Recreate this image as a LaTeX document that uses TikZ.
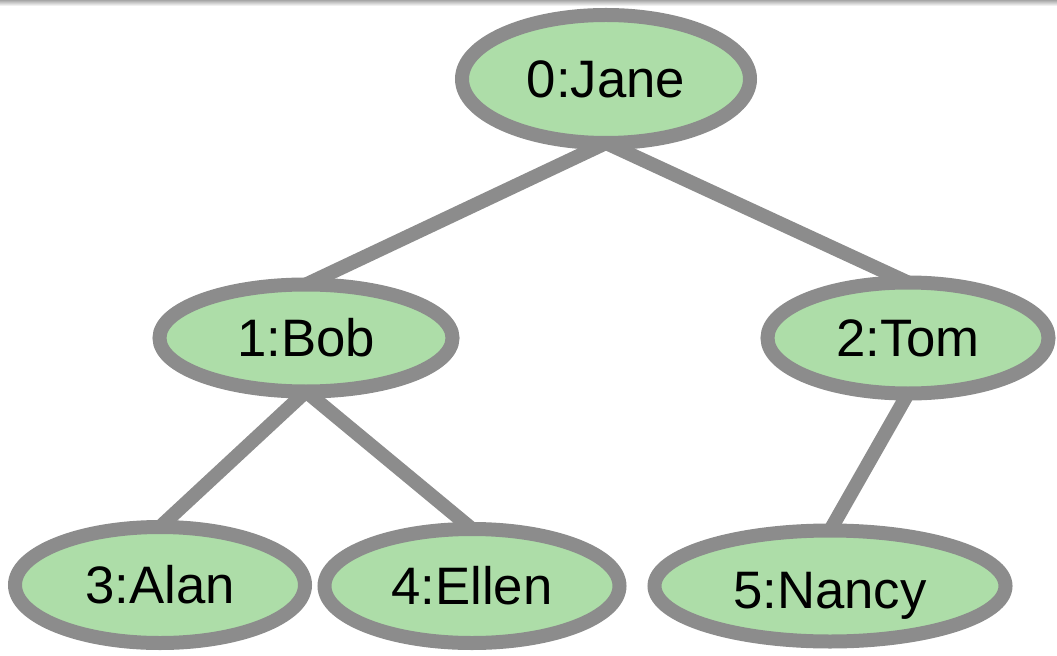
\documentclass[tikz,border=0pt]{standalone}
\usepackage{fontspec}
\setmainfont{Liberation Sans}
\usepackage{xcolor}
\usepackage{tikz}
\usetikzlibrary{shapes.geometric,shadows}

\definecolor{leaf}{HTML}{ADDDA8}
\definecolor{rim}{HTML}{8C8C8C}

\begin{document}
\begin{tikzpicture}[
	person/.style={ellipse, draw=rim, fill=leaf, line width=0.28cm, inner sep=0pt, outer sep=0pt,
		font=\fontsize{30}{36}\selectfont,
		drop shadow={opacity=0.12, shadow xshift=0.04cm, shadow yshift=-0.06cm}},
	link/.style={draw=rim, line width=0.28cm}
	]
	\useasboundingbox (0, 0) rectangle (21.14, 13.1);
	\shade[top color=gray!70, bottom color=white] (0, 12.98) rectangle (21.14, 13.1);
	
	\node[person, minimum width=5.76cm, minimum height=2.56cm] (jane) at (12.12, 11.52) {0:Jane};
	\node[person, minimum width=5.86cm, minimum height=2.14cm] (bob) at (6.12, 6.34) {1:Bob};
	\node[person, minimum width=5.62cm, minimum height=2.22cm] (tom) at (18.16, 6.34) {2:Tom};
	\node[person, minimum width=5.8cm, minimum height=2.32cm] (alan) at (3.2, 1.4) {3:Alan};
	\node[person, minimum width=5.9cm, minimum height=2.28cm] (ellen) at (9.44, 1.38) {4:Ellen};
	\node[person, minimum width=7.02cm, minimum height=2.22cm, text height=1.1cm] (nancy) at (16.6, 1.38) {5:Nancy};
	
	\draw[link] (jane.south) -- (bob.north);
	\draw[link] (jane.south) -- (tom.north);
	\draw[link] (bob.south) -- (alan.north);
	\draw[link] (bob.south) -- (ellen.north);
	\draw[link] (tom.south) -- (nancy.north);
\end{tikzpicture}
\end{document}
